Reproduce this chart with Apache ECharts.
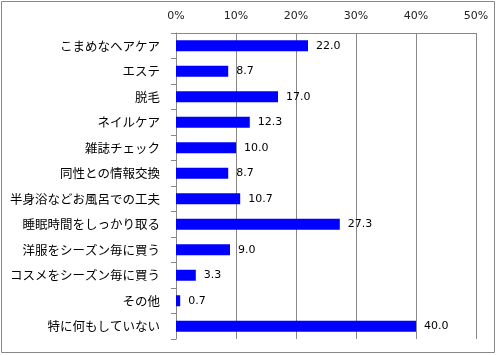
<!DOCTYPE html>
<html><head><meta charset="utf-8">
<script src="https://cdn.jsdelivr.net/npm/echarts@6/dist/echarts.min.js"></script>
<style>html,body{margin:0;padding:0;background:#fff}#c{width:497px;height:355px}</style>
</head><body><div id="c"></div>
<script>
var categories = ['こまめなヘアケア','エステ','脱毛','ネイルケア','雑誌チェック','同性との情報交換','半身浴などお風呂での工夫','睡眠時間をしっかり取る','洋服をシーズン毎に買う','コスメをシーズン毎に買う','その他','特に何もしていない'];
var values = [22.0, 8.7, 17.0, 12.3, 10.0, 8.7, 10.7, 27.3, 9.0, 3.3, 0.7, 40.0];
var chart = echarts.init(document.getElementById('c'));
chart.setOption({
  animation: false,
  backgroundColor: '#fff',
  graphic: [{type:'rect', shape:{x:1.5,y:1.5,width:493,height:351}, style:{fill:'none', stroke:'#888', lineWidth:1}, silent:true}],
  grid: {left:176, right:21, top:33, bottom:16},
  xAxis: {type:'value', position:'top', min:0, max:50, interval:10,
    axisLine:{show:true, lineStyle:{color:'#888'}},
    axisTick:{show:false},
    axisLabel:{formatter:'{value}%', color:'#222', fontFamily:'DejaVu Sans', fontSize:11, margin:11},
    splitLine:{show:true, lineStyle:{color:'#888', width:1}}},
  yAxis: {type:'category', data:categories, inverse:true,
    axisLine:{show:true, lineStyle:{color:'#888'}},
    axisTick:{show:true, length:5, lineStyle:{color:'#888'}},
    axisLabel:{color:'#000', fontFamily:'Noto Sans CJK JP', fontSize:12.5, margin:16}},
  series: [{type:'bar', data:values, barWidth:11, itemStyle:{color:'#0000FF'},
    label:{show:true, position:'right', distance:8, color:'#000', fontFamily:'DejaVu Sans', fontSize:11,
      formatter:function(p){return p.value.toFixed(1);}}}]
});
</script></body></html>
